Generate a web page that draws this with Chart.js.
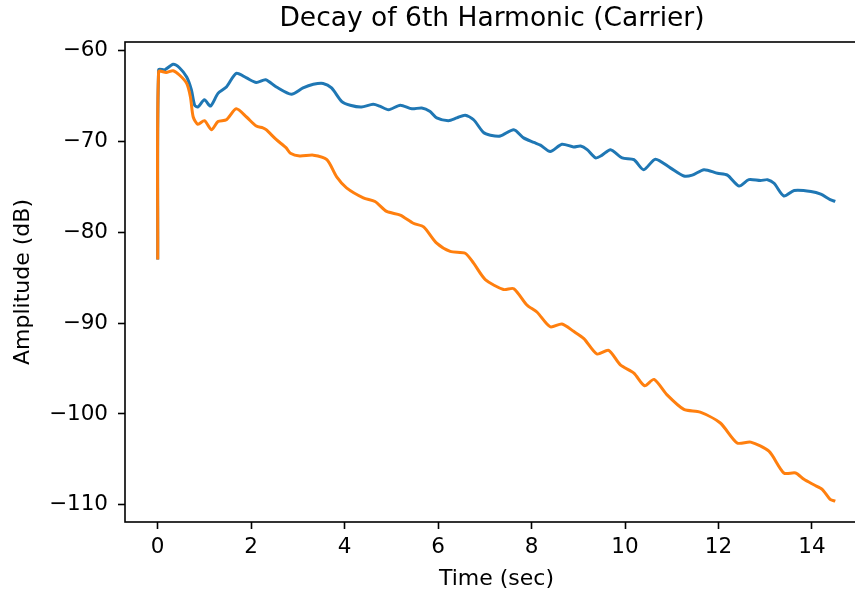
<!DOCTYPE html>
<html>
<head>
<meta charset="utf-8">
<title>Decay of 6th Harmonic (Carrier)</title>
<script src="https://cdn.jsdelivr.net/npm/chart.js@4/dist/chart.umd.min.js"></script>
<style>
    html, body { margin: 0; padding: 0; background: #fff; overflow: hidden; }
    #wrap { width: 984px; height: 592px; }
</style>
</head>
<body>
<div id="wrap"><canvas id="decayChart" width="984" height="592"></canvas></div>
<script>
// --- Data: harmonic amplitude over time ---
const xTicks = [0, 2, 4, 6, 8, 10, 12, 14];
const yTicks = [-60, -70, -80, -90, -100, -110];

const blueTime = [0, 0.02, 0.15, 0.33, 0.47, 0.62, 0.72, 0.79, 0.86, 1.0, 1.13, 1.29, 1.47, 1.68, 1.9, 2.11, 2.31, 2.54, 2.86, 3.11, 3.33, 3.54, 3.72, 3.94, 4.12, 4.36, 4.61, 4.75, 4.94, 5.19, 5.44, 5.65, 5.83, 5.97, 6.22, 6.4, 6.58, 6.76, 6.97, 7.12, 7.33, 7.62, 7.83, 8.05, 8.19, 8.4, 8.65, 8.9, 9.05, 9.19, 9.37, 9.51, 9.69, 9.94, 10.19, 10.4, 10.65, 10.97, 11.26, 11.44, 11.69, 11.98, 12.19, 12.44, 12.65, 12.9, 13.05, 13.19, 13.4, 13.62, 13.98, 14.19, 14.39, 14.5];
const blueDb = [-83, -62.1, -62.1, -61.5, -61.9, -62.9, -64.3, -66.0, -66.2, -65.4, -66.1, -64.7, -64.0, -62.5, -63.0, -63.5, -63.2, -64.0, -64.8, -64.1, -63.7, -63.6, -64.1, -65.6, -66.0, -66.2, -65.9, -66.1, -66.5, -66.0, -66.4, -66.3, -66.7, -67.4, -67.7, -67.4, -67.1, -67.6, -69.0, -69.3, -69.4, -68.7, -69.6, -70.1, -70.4, -71.1, -70.3, -70.6, -70.5, -70.9, -71.8, -71.5, -70.9, -71.8, -72.0, -73.1, -71.95, -72.9, -73.8, -73.7, -73.1, -73.5, -73.7, -74.9, -74.2, -74.3, -74.2, -74.6, -76.0, -75.4, -75.5, -75.8, -76.4, -76.6];

const orangeTime = [0, 0.02, 0.18, 0.33, 0.47, 0.62, 0.7, 0.76, 0.86, 1.0, 1.15, 1.29, 1.47, 1.68, 1.9, 2.11, 2.25, 2.32, 2.54, 2.75, 2.84, 3.04, 3.33, 3.62, 3.83, 4.04, 4.4, 4.65, 4.9, 5.19, 5.47, 5.69, 5.97, 6.26, 6.58, 6.76, 7.01, 7.4, 7.62, 7.9, 8.12, 8.4, 8.65, 8.9, 9.12, 9.4, 9.65, 9.9, 10.19, 10.42, 10.62, 10.9, 11.26, 11.61, 12.04, 12.4, 12.69, 13.08, 13.4, 13.65, 13.83, 14.04, 14.22, 14.39, 14.5];
const orangeDb = [-83, -62.3, -62.4, -62.2, -62.7, -63.6, -65.1, -67.3, -68.1, -67.7, -68.7, -67.8, -67.6, -66.4, -67.3, -68.3, -68.5, -68.7, -69.8, -70.7, -71.3, -71.6, -71.5, -72.0, -73.9, -75.1, -76.2, -76.6, -77.7, -78.1, -79.0, -79.4, -81.2, -82.1, -82.3, -83.4, -85.2, -86.3, -86.2, -88.0, -88.8, -90.4, -90.1, -90.9, -91.7, -93.4, -93.0, -94.6, -95.5, -96.9, -96.2, -97.9, -99.5, -99.8, -101.0, -103.2, -103.1, -104.1, -106.5, -106.5, -107.2, -107.8, -108.3, -109.4, -109.6];

const toPoints = (xs, ys) => xs.map((x, i) => ({ x: x, y: ys[i] }));

// Full box around the plot area
const frameBox = {
    id: 'frameBox',
    afterDatasetsDraw(chart) {
        const { ctx, chartArea: a } = chart;
        ctx.save();
        ctx.strokeStyle = '#000';
        ctx.lineWidth = 1.6;
        ctx.strokeRect(a.left, a.top, a.right - a.left, a.bottom - a.top);
        ctx.restore();
    }
};

const font = (size) => ({ family: 'DejaVu Sans', size: size, weight: 'normal' });

new Chart(document.getElementById('decayChart'), {
    type: 'line',
    data: {
        datasets: [{
            data: toPoints(blueTime, blueDb),
            borderColor: '#1f77b4',
            borderWidth: 3,
            pointRadius: 0,
            tension: 0.25,
            order: 2
        }, {
            data: toPoints(orangeTime, orangeDb),
            borderColor: '#ff7f0e',
            borderWidth: 3,
            pointRadius: 0,
            tension: 0.25,
            order: 1
        }]
    },
    plugins: [frameBox],
    options: {
        responsive: false,
        devicePixelRatio: 1,
        animation: false,
        layout: { padding: 0 },
        plugins: {
            legend: { display: false },
            tooltip: { enabled: false },
            title: {
                display: true,
                text: 'Decay of 6th Harmonic (Carrier)',
                color: '#000',
                font: font(26.5),
                padding: { top: 3, bottom: 7.2 }
            }
        },
        scales: {
            x: {
                type: 'linear',
                min: -0.7,
                max: 15.2,
                afterFit: (s) => { s.height = 70; },
                afterBuildTicks: (s) => { s.ticks = xTicks.map(v => ({ value: v })); },
                border: { display: false },
                grid: { drawOnChartArea: false, drawTicks: true, tickLength: 7, tickColor: '#000', tickWidth: 1.6 },
                ticks: { color: '#000', font: font(21.5), padding: 6, maxRotation: 0 },
                title: { display: true, text: 'Time (sec)', color: '#000', font: font(22), padding: { top: 0, bottom: 0 } }
            },
            y: {
                min: -111.9,
                max: -59.04,
                afterFit: (s) => { s.width = 125; },
                afterBuildTicks: (s) => { s.ticks = yTicks.map(v => ({ value: v })); },
                border: { display: false },
                grid: { drawOnChartArea: false, drawTicks: true, tickLength: 7, tickColor: '#000', tickWidth: 1.6 },
                ticks: { color: '#000', font: font(21.5), padding: 10, callback: (v) => String(v).replace('-', '\u2212') },
                title: { display: true, text: 'Amplitude (dB)', color: '#000', font: font(22), padding: { top: 10, bottom: 0 } }
            },
            // empty right-hand gutter so the title centres over the plot area
            gutter: {
                position: 'right',
                display: true,
                afterFit: (s) => { s.width = 116; },
                border: { display: false },
                grid: { display: false },
                ticks: { display: false }
            }
        }
    }
});
</script>
</body>
</html>
